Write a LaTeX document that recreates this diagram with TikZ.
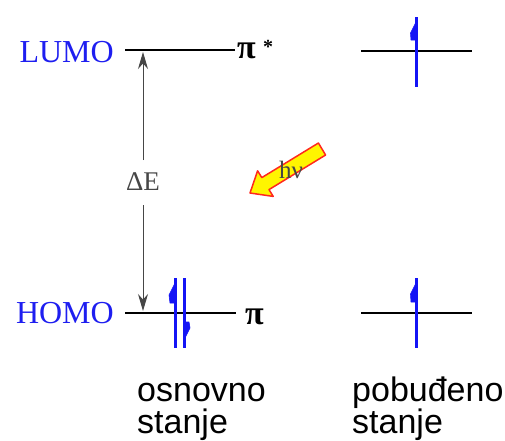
\documentclass[tikz,border=0pt]{standalone}
\usepackage{fontspec}
\usetikzlibrary{arrows.meta}
\setmainfont{Liberation Serif}
\setsansfont{Liberation Sans}
\definecolor{eblue}{RGB}{20,20,245}
\definecolor{lblue}{RGB}{30,30,240}
\definecolor{dgray}{RGB}{70,70,70}
\definecolor{hvyellow}{RGB}{255,245,0}
\definecolor{hvred}{RGB}{255,40,30}
\begin{document}
\begin{tikzpicture}[x=1pt,y=-1pt,
  level/.style={line width=2.8pt},
  elec/.style={line width=3pt,eblue},
  barb/.style={fill=eblue,draw=eblue,line width=0.6pt,line join=round},
  orb/.style={font=\fontsize{32}{32}\selectfont,text=lblue,inner sep=0pt},
  sym/.style={font=\bfseries\fontsize{34}{34}\selectfont,inner sep=0pt},
  gap/.style={dgray,line width=1pt,-{Stealth[length=17pt,width=10pt]}},
  state/.style={font=\sffamily\fontsize{34}{32}\selectfont,align=left,inner sep=0pt}]
\useasboundingbox (0,0) rectangle (505,440);
% coordinates of levels
\coordinate (la) at (125,50);  \coordinate (lb) at (235,50);
\coordinate (ha) at (125,313); \coordinate (hb) at (236,313);
\coordinate (ra) at (361,51);  \coordinate (rb) at (472,51);
\coordinate (sa) at (361,313); \coordinate (sb) at (472,313);
\draw[level] (la) -- (lb);
\draw[level] (ha) -- (hb);
\draw[level] (ra) -- (rb);
\draw[level] (sa) -- (sb);
% labels
\node[orb,anchor=base east] (lumo) at (114,62) {LUMO};
\node[orb,anchor=base east] (homo) at (114,323) {HOMO};
\node[sym,anchor=base west] (pistar) at (237,58) {π};
\node[font=\bfseries\fontsize{20}{20}\selectfont,inner sep=0pt,anchor=north west] (star) at (263,40) {*};
\node[sym,anchor=base west] (pi) at (245,324) {π};
% Delta E
\node[font=\fontsize{27}{27}\selectfont,text=dgray,inner sep=0pt] (dE) at (143,182) {ΔE};
\coordinate (dEt) at (143,52);
\coordinate (dEb) at (143,311);
\draw[gap] (143,160) -- (dEt);
\draw[gap] (143,205) -- (dEb);
% excited state electrons (right)
\draw[elec] (416,17) -- (416,87);
\filldraw[barb] (416,22) -- (410.5,33) -- (411,40) -- (416,40) -- cycle;
\draw[elec] (416,278) -- (416,348);
\filldraw[barb] (416,283) -- (410.5,294) -- (411,302) -- (416,302) -- cycle;
% ground state electron pair
\draw[elec] (175.5,278) -- (175.5,348);
\filldraw[barb] (175.5,282) -- (169,295) -- (170,303) -- (175.5,303) -- cycle;
\draw[elec] (184,278) -- (184,348);
\filldraw[barb] (184,340) -- (190,328) -- (189,322) -- (184,322) -- cycle;
% h nu arrow
\filldraw[fill=hvyellow,draw=hvred,line width=1.5pt,line join=round]
  (325.6,155.0) -- (318.4,143.0) -- (261.8,177.6) -- (257.6,170.8) -- (250,193)
  -- (273.2,196.4) -- (269.0,189.6) -- cycle;
\node[font=\fontsize{25}{25}\selectfont,text=dgray,inner sep=0pt] (hv) at (291,170) {hν};
% state labels
\node[state,anchor=base west] (gs) at (137,433) {osnovno\\stanje};
\node[state,anchor=base west] (es) at (352,433) {pobuđeno\\stanje};
\end{tikzpicture}
\end{document}
